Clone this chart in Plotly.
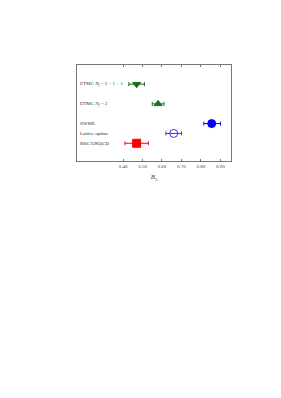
import plotly.graph_objects as go

labels = ["RBC/UKQCD", "Lattice update", "SWME",
          "ETMC <i>N<sub>f</sub></i> = 2",
          "ETMC <i>N<sub>f</sub></i> = 2 + 1 + 1"]
ypos = [1, 2, 3, 5, 7]
values = [0.47, 0.66, 0.855, 0.58, 0.47]
err_minus = [0.06, 0.04, 0.04, 0.03, 0.04]
err_plus = [0.06, 0.04, 0.045, 0.03, 0.04]
colors = ["#ff0000", "#3333ff", "#0000ff", "#1a6e1a", "#1a6e1a"]
symbols = ["square", "circle-open", "circle", "triangle-up", "triangle-down"]
sizes = [8, 8, 8, 7, 7]
tickvals = [0.40, 0.50, 0.60, 0.70, 0.80, 0.90]
ticktext = ["0.40", "0.50", "0.60", "0.70", "0.80", "0.90"]

fig = go.Figure()
for i in range(len(labels)):
    fig.add_trace(go.Scatter(
        x=[values[i]], y=[ypos[i]], mode="markers",
        marker=dict(symbol=symbols[i], size=sizes[i], color=colors[i],
                    line=dict(color=colors[i], width=1)),
        error_x=dict(type="data", symmetric=False, array=[err_plus[i]],
                     arrayminus=[err_minus[i]], color=colors[i],
                     thickness=1, width=2),
        showlegend=False))
    fig.add_annotation(x=0, xref="paper", xanchor="left", xshift=1,
                       y=ypos[i], yref="y", text=labels[i], showarrow=False,
                       font=dict(family="Liberation Serif", size=5, color="#333333"))

fig.update_layout(
    width=265, height=382,
    margin=dict(l=69, r=42, t=57, b=229),
    paper_bgcolor="white", plot_bgcolor="white",
    font=dict(family="Liberation Serif", color="#333333"),
    xaxis=dict(range=[0.164, 0.954], tickvals=tickvals, ticktext=ticktext,
               ticks="inside", ticklen=2, tickwidth=0.8, tickcolor="#777777",
               showline=True, linecolor="#777777", linewidth=1, mirror="ticks",
               showgrid=False, zeroline=False,
               tickfont=dict(family="Liberation Serif", size=5, color="#444444"),
               title=dict(text="<i>B</i><sub>5</sub>", standoff=6,
                          font=dict(family="Liberation Serif", size=7, color="#444444"))),
    yaxis=dict(range=[-0.8, 8.95], showticklabels=False, ticks="",
               showline=True, linecolor="#777777", linewidth=1, mirror=True,
               showgrid=False, zeroline=False),
)
fig.write_html("out.html")
